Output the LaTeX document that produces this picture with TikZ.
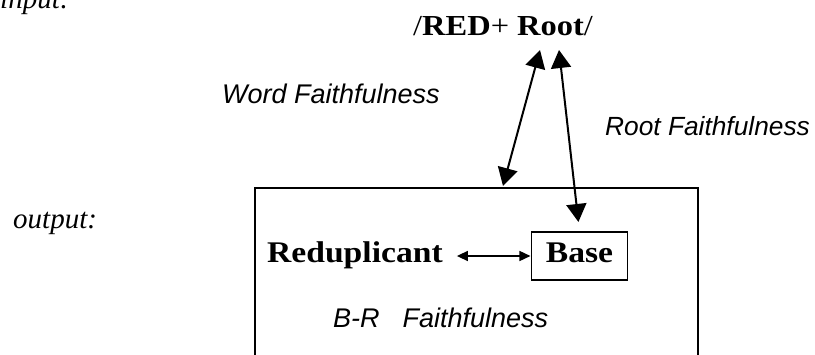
\documentclass[tikz,border=0pt]{standalone}
\usepackage{graphicx}
\usepackage{fontspec}
\setmainfont{Liberation Serif}
\newfontfamily\sansf{Liberation Sans}
\usetikzlibrary{arrows.meta,calc}
\newcommand{\wbold}[1]{\scalebox{1.12}[1]{#1}}
\begin{document}
\begin{tikzpicture}[x=1pt,y=-1pt,
  lbl/.style={inner sep=0pt, anchor=base west},
  serifit/.style={lbl, font=\fontsize{29}{34}\selectfont\itshape},
  sansit/.style={lbl, font=\fontsize{27}{32}\selectfont\sansf\itshape},
  boldtxt/.style={lbl, font=\fontsize{30}{36}\selectfont\bfseries},
  bigarrow/.style={line width=2pt, {Triangle[length=18pt,width=20pt]}-{Triangle[length=18pt,width=20pt]}},
  smallarrow/.style={line width=1.5pt, {Triangle[length=11pt,width=10pt]}-{Triangle[length=11pt,width=10pt]}},
  frame/.style={draw, line width=1.6pt}]
\useasboundingbox (0,0) rectangle (815,354);
\clip (0,0) rectangle (815,354);

\node[serifit] (in) at (0,8) {input:};
\node[serifit] (out) at (13,228) {output:};
\node[lbl, font=\fontsize{29}{34}\selectfont] (root) at (413,35) {\wbold{/\textbf{RED}+ \textbf{Root}/}};

\node[sansit] (wf) at (222,103) {Word Faithfulness};
\node[sansit, font=\fontsize{26.3}{31}\selectfont\sansf\itshape] (rf) at (605,135) {Root Faithfulness};
\node[sansit] (brf) at (333,327) {B-R\hspace{23pt}Faithfulness};

\node[frame, minimum width=443pt, minimum height=250pt, anchor=north west, inner sep=0pt] (outbox) at (254,187) {};

\node[boldtxt] (red) at (267,262) {\wbold{Reduplicant}};
\node[frame, line width=1.5pt, font=\fontsize{30}{36}\selectfont\bfseries, minimum width=95.6pt, minimum height=47.7pt, text height=20pt, text depth=8pt, inner sep=0pt] (base) at (579.5,256) {\wbold{Base}};

\coordinate (wtop) at (540,50);
\coordinate (rtop) at (559,50);
\coordinate (wbot) at (503,186);

\draw[bigarrow] (wtop) -- (wbot);
\draw[bigarrow, shorten >=9.5pt] (rtop) -- (base.north);
\draw[smallarrow, shorten <=14pt, shorten >=0.5pt] (red.east |- base.west) -- (base.west);
\end{tikzpicture}
\end{document}
